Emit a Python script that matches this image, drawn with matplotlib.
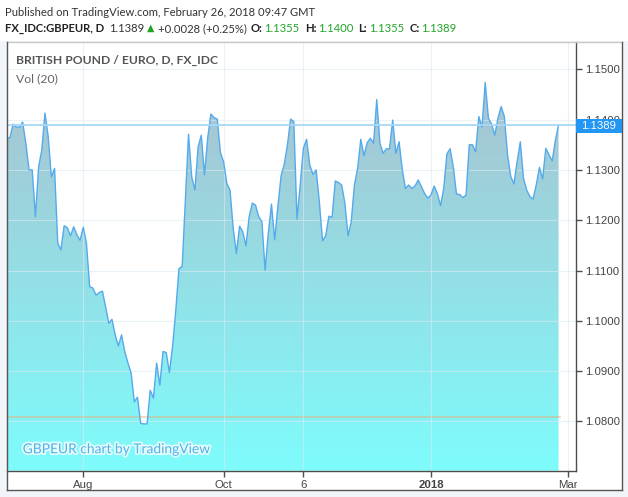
import numpy as np
import pandas as pd
import matplotlib
matplotlib.use('Agg')
import matplotlib.pyplot as plt
from matplotlib import transforms as mtransforms
from matplotlib.patches import Rectangle
from matplotlib.lines import Line2D
import matplotlib.patheffects as pe

# GBP/EUR daily closes (FX_IDC), one list per month
close_jun = [1.1363, 1.1364, 1.1391]
close_jul = [1.1385, 1.1385, 1.1395, 1.1353, 1.1300, 1.1300, 1.1207, 1.1306, 1.1340, 1.1413,
             1.1366, 1.1286, 1.1303, 1.1154, 1.1141, 1.1189, 1.1185, 1.1169, 1.1187, 1.1171,
             1.1160]
close_aug = [1.1186, 1.1154, 1.1068, 1.1065, 1.1051, 1.1056, 1.1059, 1.1028, 1.0995, 1.1003,
             1.0972, 1.0950, 1.0972, 1.0939, 1.0916, 1.0896, 1.0839, 1.0848, 1.0796, 1.0795,
             1.0795, 1.0862, 1.0846]
close_sep = [1.0916, 1.0872, 1.0939, 1.0937, 1.0897, 1.0949, 1.1021, 1.1104, 1.1108, 1.1240,
             1.1371, 1.1286, 1.1260, 1.1346, 1.1369, 1.1290, 1.1363, 1.1411, 1.1404, 1.1401,
             1.1334]
close_oct = [1.1316, 1.1273, 1.1260, 1.1184, 1.1134, 1.1188, 1.1177, 1.1149, 1.1207, 1.1234,
             1.1230, 1.1207, 1.1197, 1.1101, 1.1174, 1.1232, 1.1161, 1.1227, 1.1288, 1.1311,
             1.1350, 1.1401]
close_nov = [1.1396, 1.1202, 1.1270, 1.1343, 1.1361, 1.1310, 1.1291, 1.1300, 1.1237, 1.1159,
             1.1169, 1.1208, 1.1206, 1.1278, 1.1275, 1.1270, 1.1234, 1.1169, 1.1197, 1.1270,
             1.1303, 1.1361]
close_dec = [1.1328, 1.1354, 1.1363, 1.1353, 1.1440, 1.1353, 1.1333, 1.1342, 1.1342, 1.1399,
             1.1333, 1.1356, 1.1301, 1.1263, 1.1270, 1.1263, 1.1268, 1.1280, 1.1267, 1.1253,
             1.1244]
close_jan = [1.1250, 1.1268, 1.1253, 1.1229, 1.1263, 1.1332, 1.1342, 1.1306, 1.1252, 1.1251,
             1.1245, 1.1250, 1.1350, 1.1350, 1.1336, 1.1406, 1.1385, 1.1474, 1.1403, 1.1391,
             1.1369, 1.1403, 1.1426]
close_feb = [1.1406, 1.1330, 1.1287, 1.1272, 1.1316, 1.1356, 1.1283, 1.1260, 1.1247, 1.1242,
             1.1270, 1.1305, 1.1282, 1.1343, 1.1330, 1.1318, 1.1359, 1.1389]

closes = (close_jun + close_jul + close_aug + close_sep + close_oct + close_nov
          + close_dec + close_jan + close_feb)
dates = pd.bdate_range('2017-06-28', '2018-02-26')

tick_dates = ['2017-08-01', '2017-10-02', '2017-11-06', '2018-01-01', '2018-03-01']
tick_labels = ['Aug', 'Oct', '6', '2018', 'Mar']
price_ticks = [1.08, 1.09, 1.10, 1.11, 1.12, 1.13, 1.14, 1.15]
last_close = 1.1389
level_line = 1.0809

# header quote: (text, kind) pieces
quote = [('FX_IDC:GBPEUR, D', 'bold'), ('1.1389', 'plain'), ('\u25b2', 'green'),
         ('+0.0028 (+0.25%)', 'plain'), ('O:', 'bold'), ('1.1355', 'green'),
         ('H:', 'bold'), ('1.1400', 'green'), ('L:', 'bold'), ('1.1355', 'green'),
         ('C:', 'bold'), ('1.1389', 'green')]
gaps = [0, 5, 3, 3, 4, 2, 5, 2, 5, 2, 5, 2]

# bars are spaced by trading day, like TradingView
x = np.arange(len(closes))
tick_pos = np.busday_count(dates[0].date(), np.array(tick_dates, dtype='datetime64[D]'))

W, H = 628, 497
fig = plt.figure(figsize=(W / 100, H / 100), dpi=100, facecolor='#f1f4f8')
px = mtransforms.Affine2D().scale(1 / W, -1 / H).translate(0, 1) + fig.transFigure

# white header band and white chart panel
fig.patches.append(Rectangle((0, 0), W, 41, transform=px, facecolor='white',
                             edgecolor='none', zorder=-2))
fig.patches.append(Rectangle((6.5, 42), 615.2, 448, transform=px, facecolor='white',
                             edgecolor='none', zorder=-2))

ax = fig.add_axes([7 / W, (H - 470.7) / H, (576 - 7) / W, (470.7 - 42) / H])
ax.set_facecolor('white')
ax.set_xlim(0.09, 178.46)
ax.set_ylim(1.0702, 1.15543)
x0, x1 = ax.get_xlim()
y0, y1 = ax.get_ylim()

# gradient area under the curve
poly = ax.fill_between(x, closes, y0, facecolor='none', edgecolor='none')
top_c = np.array([173, 188, 203]) / 255
bot_c = np.array([126, 252, 252]) / 255
t = np.linspace(0, 1, 256)[:, None, None]
grad = top_c * (1 - t) + bot_c * t
im = ax.imshow(grad, extent=[x0, x1, y0, y1], aspect='auto', origin='upper', zorder=1)
im.set_clip_path(poly.get_paths()[0], transform=ax.transData)

ax.plot(x, closes, color='#55aaec', lw=1.0, zorder=3)
ax.plot([x0, x[-1] + 0.5], [level_line, level_line], color='#f4a460', alpha=0.5, lw=1.2, zorder=2.5)
ax.axhline(last_close, color='#a6d8f8', lw=1.3, zorder=4)

# axes, ticks, grid
ax.set_yticks(price_ticks)
ax.set_yticklabels(['%.4f' % v for v in price_ticks])
ax.set_xticks(tick_pos)
ax.set_xticklabels(tick_labels)
ax.yaxis.tick_right()
ax.grid(True, color='#dde9f3', alpha=0.6, lw=0.8, zorder=2)
ax.set_axisbelow(False)
for s in ['top', 'left']:
    ax.spines[s].set_visible(False)
for s in ['right', 'bottom']:
    ax.spines[s].set_color('#4d4d4d')
    ax.spines[s].set_linewidth(1.0)
    ax.spines[s].set_zorder(6)
ax.tick_params(axis='both', length=4, width=1, color='#4d4d4d', labelcolor='#444444',
               labelsize=8.2, pad=2.5)
for lbl in ax.get_xticklabels() + ax.get_yticklabels():
    lbl.set_family('Liberation Sans')
ax.get_xticklabels()[3].set_fontweight('bold')

# "Mar" is cut by the price scale, "1.1400" sits under the price label
mar = ax.xaxis.get_major_ticks()[-1].label1
mar.set_clip_box(mtransforms.TransformedBbox(
    mtransforms.Bbox([[0, 0], [576.5 / W, 1]]), fig.transFigure))
mar.set_clip_on(True)
hidden = ax.yaxis.get_major_ticks()[price_ticks.index(1.14)].label2
hidden.set_clip_box(mtransforms.TransformedBbox(
    mtransforms.Bbox([[0, (H - 118.5) / H], [1, 1]]), fig.transFigure))
hidden.set_clip_on(True)

# outer frame
frame = dict(transform=px, lw=1.0, zorder=6)
fig.lines.append(Line2D([6.5, 621.7], [42, 42], color='#c8c8c8', **frame))
fig.lines.append(Line2D([6.5, 6.5], [42, 490], color='#555555', **frame))
fig.lines.append(Line2D([621.7, 621.7], [42, 490], color='#555555', **frame))
fig.lines.append(Line2D([6.5, 621.7], [490, 490], color='#555555', **frame))

# price label on the scale
fig.patches.append(Rectangle((575.5, 118.5), 46.2, 14, transform=px, facecolor='#2196f3',
                             edgecolor='none', zorder=7))
fig.text(598.6, 125.7, '%.4f' % last_close, transform=px, ha='center', va='center',
         color='white', fontsize=8.2, family='Liberation Sans', zorder=8)

renderer = fig.canvas.get_renderer()


def put(xp, yp, s, width=None, size=9, **kw):
    txt = fig.text(xp, yp, s, transform=px, ha='left', va='center', fontsize=size, zorder=8, **kw)
    if width:
        w = txt.get_window_extent(renderer).width
        txt.set_fontsize(size * width / w)
    return txt


green = '#21a326'
fam = ['Lato', 'DejaVu Sans']
head = put(5, 12.5, 'Published on TradingView.com, February 26, 2018 09:47 GMT', width=312,
           color='#333333', family=fam)
hs = head.get_fontsize()
styles = {'bold': dict(color='#222222', weight='bold'),
          'plain': dict(color='#333333'),
          'green': dict(color=green)}
xp = 5
for (s, kind), g in zip(quote, gaps):
    xp += g
    size = hs * 0.85 if s == '\u25b2' else hs
    piece = put(xp, 28.5, s, size=size, family=fam, **styles[kind])
    xp += piece.get_window_extent(renderer).width

put(16, 60, 'BRITISH POUND / EURO, D, FX_IDC', width=201, color='#555555', weight='bold',
    family='Lato')
put(16, 78.5, 'Vol (20)', width=42, color='#666666', family='Lato')
put(22.7, 449.3, 'GBPEUR chart by TradingView', width=188, color='#55b3ea', family='Lato',
    path_effects=[pe.withStroke(linewidth=2.5, foreground='white', alpha=0.8)])

fig.savefig('out.png', dpi=100, facecolor=fig.get_facecolor())
